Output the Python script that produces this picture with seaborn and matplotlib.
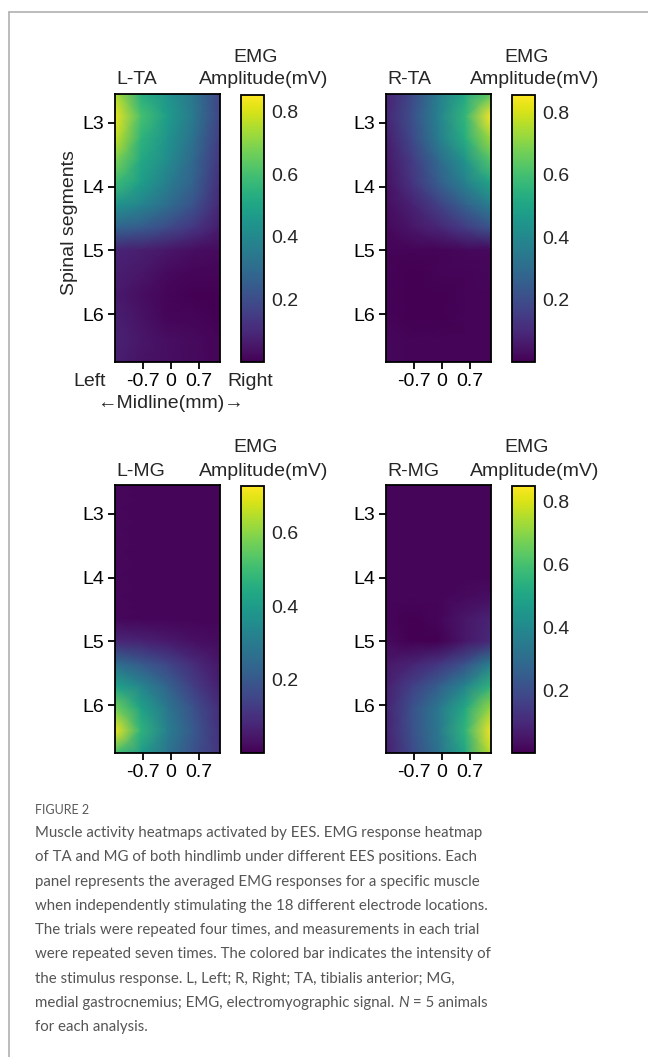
import numpy as np
import seaborn as sns
import matplotlib.pyplot as plt
from matplotlib.lines import Line2D

sns.set_style("ticks")
plt.rcParams['font.family'] = ['Liberation Sans', 'DejaVu Sans']

W, H = 648, 1057

# EMG amplitude (mV): 13 rows (rostral -> caudal) x 5 columns (left -> right)
l_ta = [
    [0.75, 0.53, 0.44, 0.33, 0.17],
    [0.83, 0.60, 0.47, 0.34, 0.17],
    [0.78, 0.55, 0.44, 0.31, 0.15],
    [0.68, 0.51, 0.41, 0.28, 0.13],
    [0.58, 0.47, 0.36, 0.26, 0.11],
    [0.43, 0.38, 0.30, 0.21, 0.09],
    [0.27, 0.24, 0.19, 0.13, 0.06],
    [0.085, 0.07, 0.05, 0.03, 0.02],
    [0.07, 0.05, 0.02, 0.01, 0.01],
    [0.06, 0.03, 0.01, 0.00, 0.00],
    [0.07, 0.04, 0.01, 0.01, 0.00],
    [0.08, 0.05, 0.03, 0.02, 0.01],
    [0.07, 0.04, 0.03, 0.02, 0.01],
]
r_ta = [
    [0.08, 0.19, 0.36, 0.51, 0.64],
    [0.09, 0.21, 0.38, 0.56, 0.85],
    [0.07, 0.19, 0.36, 0.53, 0.73],
    [0.05, 0.15, 0.29, 0.44, 0.62],
    [0.04, 0.13, 0.25, 0.37, 0.50],
    [0.03, 0.08, 0.16, 0.26, 0.36],
    [0.02, 0.05, 0.09, 0.15, 0.22],
    [0.01, 0.01, 0.01, 0.02, 0.02],
    [0.01, 0.00, 0.01, 0.01, 0.02],
    [0.01, 0.00, 0.00, 0.01, 0.01],
    [0.01, 0.00, 0.00, 0.01, 0.01],
    [0.02, 0.01, 0.01, 0.01, 0.01],
    [0.02, 0.01, 0.01, 0.01, 0.01],
]
l_mg = [
    [0.015, 0.01, 0.01, 0.01, 0.01],
    [0.015, 0.01, 0.01, 0.01, 0.01],
    [0.015, 0.01, 0.01, 0.01, 0.01],
    [0.015, 0.01, 0.01, 0.01, 0.01],
    [0.015, 0.01, 0.01, 0.01, 0.01],
    [0.015, 0.01, 0.01, 0.01, 0.01],
    [0.015, 0.01, 0.01, 0.01, 0.01],
    [0.08, 0.07, 0.05, 0.03, 0.02],
    [0.26, 0.20, 0.15, 0.09, 0.04],
    [0.42, 0.33, 0.23, 0.13, 0.06],
    [0.57, 0.42, 0.29, 0.18, 0.09],
    [0.71, 0.47, 0.31, 0.20, 0.10],
    [0.51, 0.40, 0.28, 0.18, 0.11],
]
r_mg = [
    [0.01, 0.01, 0.01, 0.01, 0.01],
    [0.01, 0.01, 0.01, 0.01, 0.01],
    [0.01, 0.01, 0.01, 0.01, 0.01],
    [0.01, 0.01, 0.01, 0.01, 0.01],
    [0.01, 0.01, 0.01, 0.01, 0.01],
    [0.01, 0.01, 0.01, 0.02, 0.03],
    [0.01, 0.00, 0.01, 0.05, 0.08],
    [0.02, 0.00, 0.00, 0.05, 0.10],
    [0.05, 0.08, 0.13, 0.21, 0.36],
    [0.07, 0.16, 0.25, 0.38, 0.55],
    [0.08, 0.21, 0.34, 0.51, 0.72],
    [0.08, 0.21, 0.34, 0.55, 0.84],
    [0.07, 0.19, 0.32, 0.50, 0.77],
]

titles = ["L-TA", "R-TA", "L-MG", "R-MG"]
grids = [l_ta, r_ta, l_mg, r_mg]
vmaxes = [0.853, 0.855, 0.728, 0.85]
cbar_ticks = [[0.2, 0.4, 0.6, 0.8], [0.2, 0.4, 0.6, 0.8], [0.2, 0.4, 0.6], [0.2, 0.4, 0.6, 0.8]]

seg_labels = ["L3", "L4", "L5", "L6"]
seg_pos = [0, 1, 2, 3]
seg_top, seg_bottom = -0.45, 3.75
mm_ticks = [-0.7, 0, 0.7]
mm_labels = ["-0.7", "0", "0.7"]
mm_left, mm_right = -1.4, 1.24

caption = [
    "Muscle activity heatmaps activated by EES. EMG response heatmap",
    "of TA and MG of both hindlimb under different EES positions. Each",
    "panel represents the averaged EMG responses for a specific muscle",
    "when independently stimulating the 18 different electrode locations.",
    "The trials were repeated four times, and measurements in each trial",
    "were repeated seven times. The colored bar indicates the intensity of",
    "the stimulus response. L, Left; R, Right; TA, tibialis anterior; MG,",
]


def box(x0, y0, x1, y1):
    return [x0 / W, 1 - y1 / H, (x1 - x0) / W, (y1 - y0) / H]


def ftext(x, y, s, **kw):
    return fig.text(x / W, 1 - y / H, s, **kw)


fig = plt.figure(figsize=(W / 100, H / 100), dpi=100)

# left-x of heatmap, top-y of panel row
cols_x = [115, 386]
rows_y = [94, 485]

for i, grid in enumerate(grids):
    data = np.array(grid)
    nr, nc = data.shape
    x0 = cols_x[i % 2]
    y0 = rows_y[i // 2]
    ax = fig.add_axes(box(x0, y0, x0 + 105, y0 + 268))
    cax = fig.add_axes(box(x0 + 126, y0 + 1, x0 + 149, y0 + 268))
    sns.heatmap(data, ax=ax, cbar_ax=cax, cmap="viridis", vmin=0, vmax=vmaxes[i],
                shading="gouraud", xticklabels=False, yticklabels=False)
    ax.set_xlim(0, nc - 1)
    ax.set_ylim(nr - 1, 0)
    for s in ax.spines.values():
        s.set_visible(True)
        s.set_linewidth(1.3)
        s.set_color("black")
    xt = [(m - mm_left) / (mm_right - mm_left) * (nc - 1) for m in mm_ticks]
    yt = [(p - seg_top) / (seg_bottom - seg_top) * (nr - 1) for p in seg_pos]
    ax.set_xticks(xt, mm_labels)
    ax.set_yticks(yt, seg_labels)
    ax.tick_params(direction="out", length=5, width=1.3, labelsize=14, pad=3, colors="black")

    cb = ax.collections[0].colorbar
    cb.outline.set_linewidth(1.3)
    cb.outline.set_edgecolor("black")
    cb.set_ticks(cbar_ticks[i])
    cax.tick_params(direction="in", length=3.5, width=1.3, labelsize=14, pad=5)

    ftext(x0 + 1, y0 - 14, titles[i], fontsize=14, ha="left", va="center")
    cx = x0 + 137.5
    ftext(cx + 3.5, y0 - 37, "EMG", fontsize=14, ha="center", va="center")
    ftext(cx + 11, y0 - 14, "Amplitude(mV)", fontsize=14, ha="center", va="center")

ftext(70, 223, "Spinal segments", fontsize=14, rotation=90, ha="center", va="center")
ftext(90, 381, "Left", fontsize=14, ha="center", va="center")
ftext(250, 381, "Right", fontsize=14, ha="center", va="center")
ftext(170, 403, "\u2190Midline(mm)\u2192", fontsize=14, ha="center", va="center")

# page frame
fig.add_artist(Line2D([9 / W, 1], [1 - 12 / H, 1 - 12 / H], color="#b0b0b0", lw=1.2))
fig.add_artist(Line2D([9 / W, 9 / W], [1 - 12 / H, 0], color="#b0b0b0", lw=1.2))

cap_font = ["Lato", "DejaVu Sans"]
cap_size = 10.85
ftext(35, 810, "FIGURE 2", fontsize=9, color="#5a5a5a", family=cap_font, va="center")
line_y = 833.3
step = 24.2
for k, line in enumerate(caption):
    ftext(35, line_y + k * step, line, fontsize=cap_size, color="#555555", family=cap_font, va="center")
t1 = ftext(35, line_y + 7 * step, "medial gastrocnemius; EMG, electromyographic signal. ",
           fontsize=cap_size, color="#555555", family=cap_font, va="center")
t2 = fig.add_artist(plt.Annotation("N", xy=(1, 0), xycoords=t1, va="bottom", ha="left",
                                   fontsize=cap_size, color="#555555", family=cap_font, style="italic"))
fig.add_artist(plt.Annotation(" = 5 animals", xy=(1, 0), xycoords=t2, va="bottom", ha="left",
                              fontsize=cap_size, color="#555555", family=cap_font))
ftext(35, line_y + 8 * step, "for each analysis.", fontsize=cap_size, color="#555555",
      family=cap_font, va="center")

fig.savefig("out.png", dpi=100)
